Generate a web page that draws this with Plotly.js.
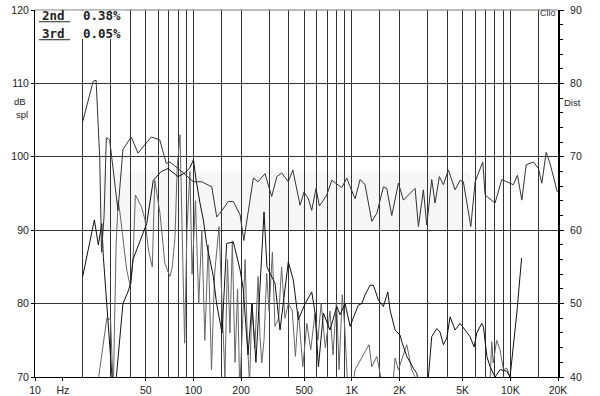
<!DOCTYPE html>
<html><head><meta charset="utf-8">
<script src="https://cdn.plot.ly/plotly-3.0.1.min.js"></script>
<style>html,body{margin:0;padding:0;background:#fff}#c{width:600px;height:396px}</style>
</head><body><div id="c"></div><script>
// Fundamental (dB spl)
const fundFreq=[20,21.6,23.3,24.3,25.6,26.3,27.3,28.2,29.6,33.4,35.9,40.5,44.7,54.2,61.3,67.4,71.1,86.3,100,112.8,130.5,140.3,147,166,178.6,197,208,239,256,283,312,336,361,397,424,471,499,531,558,594,624,695,747,863,929,975,1048,1127,1211,1336,1437,1581,1660,1786,1967,2115,2508,2630,2827,2969,3192,3350,3566,3781,4066,4482,4820,5057,5633,5998,6703,6935,8011,8832,10465,11098,11826,12593,13999,15058,15815,16831,17818,19800];
const fundDb=[104.8,107.5,110.3,110.4,100,87,92,102.6,102.3,92.7,101,102.7,100.5,102.7,102.3,99.1,99.3,97.8,96.6,96.6,95.9,91.8,92.3,93.9,93.9,92.1,88.6,97.1,96.6,97.7,94.6,97.3,97.8,96.6,98.2,93.4,95.2,94.3,92.7,95.7,93.3,94.8,96.8,95.8,97.1,95.9,94.3,96.9,96.2,91.2,92.3,95.9,95.7,92.0,96.4,94.1,95.7,90.5,95.5,90.7,96.9,93.7,97.3,96.2,98.2,95.5,96.8,96.6,90.5,96.6,99.3,94.8,93.7,96.9,96.2,97.5,94.1,98.9,99.3,98.4,96.4,100.6,99.1,95.2];
// 2nd harmonic
const h2Freq=[20,23.7,25.1,26.4,27,29,31.1,32,34.2,35.9,38.6,40.2,41.5,44.7,49.3,50.7,55.8,62.7,69.1,79.9,88.1,95,100,104,110,115.5,121,133.5,140,151.6,162,178.6,197,206.5,221,234,248,263,279,291,327,352,397,427,459,507,558,586,615,661,728,803,843,906,975,1018,1099,1155,1211,1303,1368,1470,1581,1686,1742,1874,2015,2066,2222,2445,2568,2700,2900,3041,3192,3436,3605,3781,3972,4168,4482,4820,5184,5573,5908,6141,6603,6770,7113,7452,8011,8617,9498,9965,10990,11523,11780];
const h2Db=[83.7,91.4,88,90.9,86.4,78,68,68,75.5,80,81.6,82.8,86,87.8,90,90.9,96.8,98,98.4,97.3,97.8,98.5,99.6,96.8,93.7,91.4,88.2,83.7,80,76,88.2,88.4,84.6,81.9,73,80,72,83,92.5,85,82.8,76.4,85.7,83.2,77.8,80,81.6,78.7,71.4,78.7,76.4,79.6,78.5,80,76.9,78,79.8,80,81.2,82.5,82.5,80.5,79.6,81.6,79.1,76.4,75.7,74.8,72.8,71.2,70.5,68,68,70,75.5,76.6,76.1,74.4,75.3,78.2,76.4,77.3,76.4,75.5,74.1,76,77.3,76.8,72.8,71.4,70,71,70.8,70,78.7,83.2,86.2];
// 3rd harmonic
const h3Freq=[24.5,28.4,30,31.2,32.5,33.5,34.4,37.9,40,41.5,43,47,49.5,52,55,57,61.5,66,71,73.5,76.5,79,82.3,88,91,95,98,103,108,113,118,124,130,136,145,152,158,164,170,176,183,190,196,204,212,219,226,234,244,256,263,270,279,290,300,315,327,345,360,378,397,420,440,460,490,520,550,585,610,640,680,728,760,800,830,870,900,940,1000,1048,1283,1336,1437,1507,1560,1800,1874,1967,2222,2385,2508,2600,7400,7640,7800,8200,8617,9040,9500,9965,10300];
const h3Db=[68,78,77.8,68,88,94,92.3,84.6,82.3,85.7,94.8,93.2,91.4,87.3,85,96.8,92.3,85.5,83.7,85,89.1,98.7,103,74.6,90,98,84,94,80,90,75,88,71,84,90.5,80,70,86,76,88.5,72,82,68,77,86,75,69,80,74,83.7,75.5,71.9,75,84.1,79,87,76.9,78,85,78,80,79.1,72.8,78.9,71.4,77.3,73.7,78.7,75,80,74,79,73,80.5,71,81.2,77,69,68,71,74.4,71.4,72.8,70.5,68,68,72.6,71,74.4,71,70,68,68,74.8,71.9,75,73.7,71,71.2,70,68];
// axes
const gridFreq=[20,30,40,50,60,70,80,90,100,150,200,300,400,500,600,700,800,900,1000,1500,2000,3000,4000,5000,6000,7000,8000,9000,10000,15000];
const xTickVals=[10,15,50,100,200,500,1000,2000,5000,10000,20000];
const xTickText=['10','Hz','50','100','200','500','1K','2K','5K','10K','20K'];
const leftTicks=[70,80,90,100,110,120];
const rightTicks=[40,50,60,70,80,90];
const legendRows=[['2nd','0.38%'],['3rd','0.05%']];

const tf={family:'Liberation Sans, Arial, sans-serif',size:10.5,color:'#222'};
const sf={family:'Liberation Sans, Arial, sans-serif',size:9.5,color:'#222'};
const traces=[
 {x:h3Freq,y:h3Db,mode:'lines',line:{color:'#666',width:1},hoverinfo:'skip',showlegend:false},
 {x:h2Freq,y:h2Db,mode:'lines',line:{color:'#111',width:1},hoverinfo:'skip',showlegend:false},
 {x:fundFreq,y:fundDb,mode:'lines',line:{color:'#333',width:1},hoverinfo:'skip',showlegend:false},
 {x:[1000],y:[60],yaxis:'y2',mode:'markers',marker:{opacity:0},hoverinfo:'skip',showlegend:false}
];
const shapes=[
 {type:'rect',xref:'paper',yref:'paper',x0:0.124,x1:0.832,y0:0.40,y1:0.56,fillcolor:'#f7f7f7',line:{width:0},layer:'below'},
 {type:'line',xref:'paper',yref:'paper',x0:0,x1:1,y0:1,y1:1,line:{color:'#777',width:1}},
 {type:'rect',xref:'paper',yref:'paper',x0:0.002,x1:0.172,y0:0.921,y1:0.998,fillcolor:'#fff',line:{width:0},layer:'above'}
];
const annotations=[
 {xref:'paper',yref:'paper',x:-0.0287,y:0.752,xanchor:'center',yanchor:'middle',text:'dB',showarrow:false,font:sf},
 {xref:'paper',yref:'paper',x:-0.0249,y:0.714,xanchor:'center',yanchor:'middle',text:'spl',showarrow:false,font:sf},
 {xref:'paper',yref:'paper',x:1.0268,y:0.7466,xanchor:'center',yanchor:'middle',text:'Dist',showarrow:false,font:sf},
 {xref:'paper',yref:'paper',x:0.9805,y:0.992,xanchor:'center',yanchor:'middle',text:'Clio',showarrow:false,font:{family:'Liberation Sans, Arial',size:9,color:'#333'}}
];
const lf={family:'DejaVu Sans Mono, monospace',size:12.5,color:'#222'};
legendRows.forEach((r,i)=>{
 const yp=[0.985,0.936][i];
 annotations.push({xref:'paper',yref:'paper',x:0.0095,y:yp,xanchor:'left',yanchor:'middle',text:'<b>'+r[0]+'</b>',showarrow:false,font:lf});
 annotations.push({xref:'paper',yref:'paper',x:0.087,y:yp,xanchor:'left',yanchor:'middle',text:'<b>'+r[1]+'</b>',showarrow:false,font:lf});
 shapes.push({type:'line',xref:'paper',yref:'paper',x0:0.0076,x1:0.067,y0:[0.968,0.919][i],y1:[0.968,0.919][i],line:{color:'#222',width:1},layer:'above'});
});
const layout={
 width:600,height:396,margin:{l:35,r:42,t:10,b:19},
 paper_bgcolor:'#fff',plot_bgcolor:'rgba(0,0,0,0)',showlegend:false,
 xaxis:{type:'log',range:[1,Math.log10(20000)],tickmode:'array',tickvals:xTickVals,ticktext:xTickText,
  ticks:'outside',ticklen:3,tickcolor:'#000',showgrid:false,showline:true,linecolor:'#000',linewidth:1,
  tickfont:tf,zeroline:false,
  minor:{tickmode:'array',tickvals:gridFreq,showgrid:true,gridcolor:'#333',gridwidth:1,ticks:''}},
 yaxis:{range:[70,120],tickmode:'array',tickvals:leftTicks,ticks:'outside',ticklen:3,tickcolor:'#000',
  showgrid:true,gridcolor:'#333',gridwidth:1,showline:true,linecolor:'#000',linewidth:1,tickfont:tf,zeroline:false},
 yaxis2:{range:[40,90],overlaying:'y',side:'right',tickmode:'array',tickvals:rightTicks,ticks:'outside',ticklen:4,
  tickcolor:'#000',showgrid:false,showline:true,linecolor:'#000',linewidth:2,tickfont:tf,zeroline:false,ticklabelstandoff:4,
  minor:{dtick:2,ticks:'outside',ticklen:3,tickcolor:'#000',showgrid:false}},
 shapes:shapes,annotations:annotations
};
Plotly.newPlot('c',traces,layout,{staticPlot:true,displayModeBar:false});
</script></body></html>
